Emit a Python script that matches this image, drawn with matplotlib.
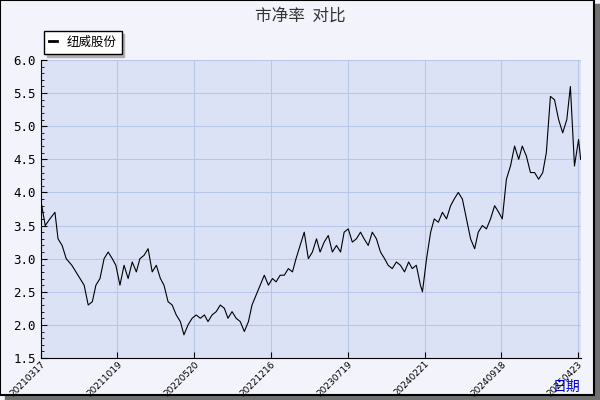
import matplotlib
matplotlib.use("Agg")
import matplotlib.pyplot as plt
from matplotlib.patches import Rectangle
import numpy as np

plt.rcParams['font.family'] = ['Noto Sans CJK SC', 'DejaVu Sans']

tick_labels = ["20210317", "20211019", "20220520", "20221216", "20230719", "20240221", "20240918", "20250423"]
tick_pos = [0, 150, 300, 450, 600, 750, 900, 1050]
pix = [40,45,50,55,58,62,66,72,78,84,88,92,96,100,104,108,112,116,120,124,128,132,136,140,144,148,152,156,160,164,168,172,176,180,184,188,192,196,200,204,208,212,216,220,224,228,232,236,240,244,248,252,256,260,264,268,272,276,280,284,288,292,296,300,304,308,312,316,320,324,328,332,336,340,344,348,352,356,360,364,368,372,376,380,384,388,392,396,400,404,408,412,416,420,422,426,430,434,438,442,446,450,454,458,462,466,470,474,478,482,486,490,494,498,502,506,510,514,518,522,526,530,534,538,542,546,550,554,558,562,566,570,574,578,580]
days = [int(round((p - 40.6) / 76.7 * 150)) if p > 40 else 0 for p in pix]
pb = [3.9,3.5,3.6,3.7,3.3,3.2,3.0,2.9,2.75,2.6,2.3,2.35,2.6,2.7,3.0,3.1,3.0,2.9,2.6,2.9,2.7,2.95,2.8,3.0,3.05,3.15,2.8,2.9,2.7,2.6,2.35,2.3,2.15,2.05,1.85,2.0,2.1,2.15,2.1,2.15,2.05,2.15,2.2,2.3,2.25,2.1,2.2,2.1,2.05,1.9,2.05,2.3,2.45,2.6,2.75,2.6,2.7,2.65,2.75,2.75,2.85,2.8,3.0,3.2,3.4,3.0,3.1,3.3,3.1,3.25,3.35,3.1,3.2,3.1,3.4,3.45,3.25,3.3,3.4,3.3,3.2,3.4,3.3,3.1,3.0,2.9,2.85,2.95,2.9,2.8,2.95,2.85,2.9,2.6,2.5,3.0,3.4,3.6,3.55,3.7,3.6,3.8,3.9,4.0,3.9,3.6,3.3,3.15,3.4,3.5,3.45,3.6,3.8,3.7,3.6,4.2,4.4,4.7,4.5,4.7,4.55,4.3,4.3,4.2,4.3,4.6,5.45,5.4,5.1,4.9,5.1,5.6,4.4,4.8,4.5]

fig = plt.figure(figsize=(6, 4), dpi=100, facecolor='#f2f3fb')
fig.patches.append(Rectangle((0.008, 0.0), 0.992, 0.99, transform=fig.transFigure, color='#707070', zorder=-2))
fig.patches.append(Rectangle((0.0, 0.012), 0.99, 0.988, transform=fig.transFigure, facecolor='#f2f3fb', edgecolor='black', lw=1.5, zorder=-1))

ax = fig.add_axes([0.0677, 0.105, 0.9, 0.745])
ax.set_facecolor('#dce2f6')
ax.plot(days, pb, color='black', lw=0.8, label='纽威股份')
ax.set_xlim(0, 1055)
ax.set_ylim(1.5, 6.0)
ax.set_yticks(np.arange(1.5, 6.01, 0.5))
ax.set_yticklabels([f"{v:.1f}" for v in np.arange(1.5, 6.01, 0.5)], family='DejaVu Sans Mono', fontsize=9)
ax.set_yticks(np.arange(1.5, 6.0, 0.1), minor=True)
ax.set_xticks(tick_pos)
ax.set_xticklabels(tick_labels, rotation=45, ha='right', va='top', rotation_mode='anchor', fontsize=6.5, family='DejaVu Sans')
ax.tick_params(axis='y', which='both', direction='in', length=4)
ax.tick_params(axis='y', which='minor', length=2)
ax.tick_params(axis='x', direction='in', length=4, pad=1)
ax.grid(True, color='#b8c6ea', lw=0.8)
for s in ['top', 'right']:
    ax.spines[s].set_visible(False)
ax.text(1.0, -0.11, '日期', transform=ax.transAxes, color='#0000cc', fontsize=10, ha='right')
fig.text(0.5, 0.96, '市净率  对比', ha='center', va='center', fontsize=12, color='#333333')
leg = ax.legend(loc='lower left', bbox_to_anchor=(-0.005, 1.0), frameon=True, fancybox=False,
                edgecolor='black', fontsize=9, handlelength=0.6, shadow={'color': '#b0b0b0', 'alpha': 1})
leg.get_lines()[0].set_linewidth(2)
fig.savefig('out.png', dpi=100, facecolor=fig.get_facecolor())
